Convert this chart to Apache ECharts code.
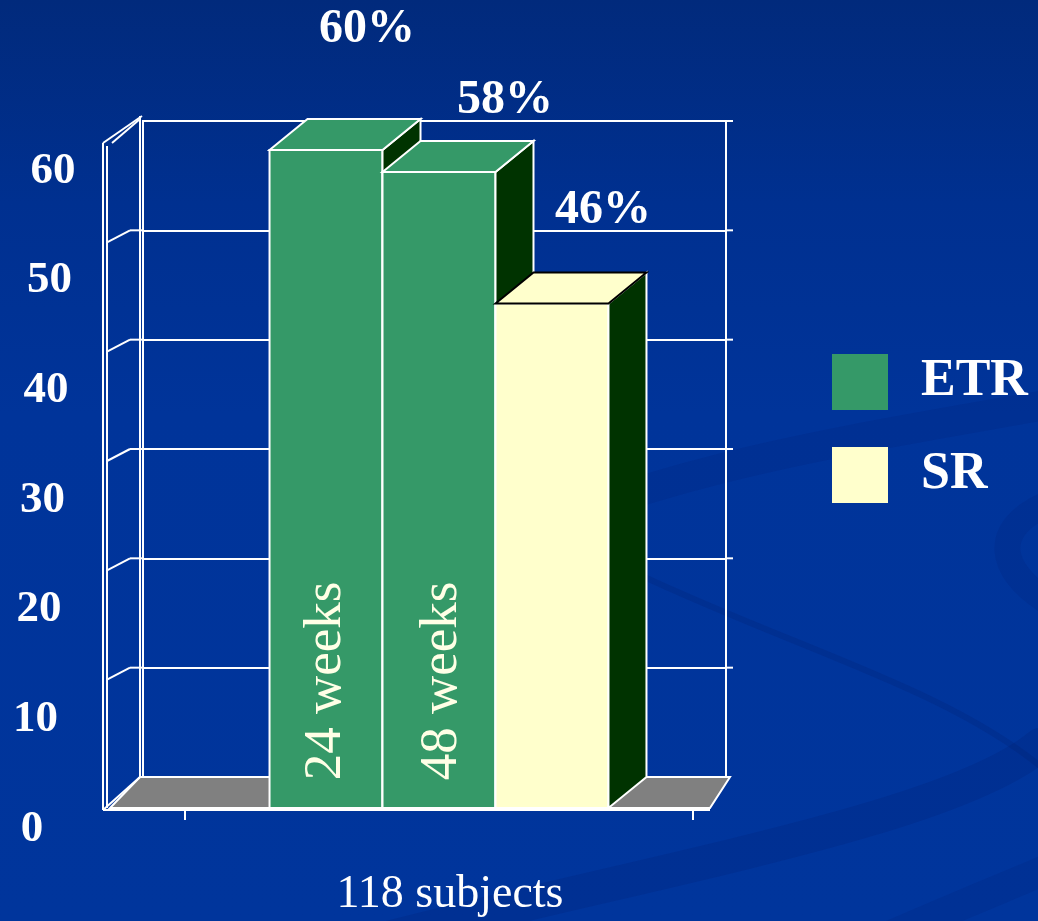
<!DOCTYPE html>
<html>
<head>
<meta charset="utf-8">
<script src="https://cdn.jsdelivr.net/npm/echarts@6/dist/echarts.min.js"></script>
<style>
  html, body { margin: 0; padding: 0; }
  #chart {
    width: 1038px; height: 921px;
    background: linear-gradient(180deg, #012a7c 0%, #003090 22%, #00349a 45%, #00359c 100%);
  }
</style>
</head>
<body>
<div id="chart"></div>
<script>
// ---- data ----
const categories = ['118 subjects'];
const seriesNames = ['ETR', 'SR'];
const etrValues = [60, 58];
const etrBarTexts = ['24 weeks', '48 weeks'];
const srValues = [46];
const yTicks = [0, 10, 20, 30, 40, 50, 60];

// ---- layout / style ----
const FONT = "'Liberation Serif', 'DejaVu Serif', serif";
const BACK = { left: 143, top: 121, width: 583, height: 656 };   // back wall plane
const FRONT = { left: 185, top: 150, width: 508, height: 658 };  // front plane of the boxes
const DX = 38, DY = -31;            // depth offset of the 3-D boxes
const BAR_FRAC = 0.2224;            // box width as share of the category band
const labelShift = [[41, -120], [66, -71], [51, -93]]; // value labels, per slot
const GREEN = '#359968', CREAM = '#ffffcc', SIDE = '#003300';

const chart = echarts.init(document.getElementById('chart'), null, { renderer: 'canvas' });

function renderBox(params, api) {
  const v = api.value(1);
  const slot = api.value(2);
  const top = api.coord([0, v]);
  const base = api.coord([0, 0]);
  const bw = api.size([1, 0])[0] * BAR_FRAC;
  const x0 = top[0] + (slot - 1.5) * bw, x1 = x0 + bw;
  const yT = top[1], yB = base[1];
  const cream = params.seriesName === 'SR';
  const fill = cream ? CREAM : GREEN;
  const edge = cream ? '#000000' : '#ffffff';
  const children = [
    { type: 'rect', shape: { x: x0, y: yT, width: bw, height: yB - yT },
      style: { fill: fill, stroke: '#ffffff', lineWidth: 2 } },
    { type: 'polygon', shape: { points: [[x1, yT], [x1 + DX, yT + DY], [x1 + DX, yB + DY], [x1, yB]] },
      style: { fill: SIDE, stroke: '#ffffff', lineWidth: 2 } },
    { type: 'polygon', shape: { points: [[x0, yT], [x0 + DX, yT + DY], [x1 + DX, yT + DY], [x1, yT]] },
      style: { fill: fill, stroke: edge, lineWidth: 2 } },
    { type: 'text', x: (x0 + x1) / 2 + labelShift[slot][0], y: yT + labelShift[slot][1],
      style: { text: v + '%', fill: '#ffffff', font: 'bold 48px ' + FONT, align: 'center', verticalAlign: 'middle' } }
  ];
  const inner = api.value(3);
  if (inner) {
    children.push({ type: 'text', x: (x0 + x1) / 2 + 3 * slot, y: yB - 127, rotation: Math.PI / 2,
      style: { text: inner, fill: '#ffffe6', font: '53px ' + FONT, align: 'center', verticalAlign: 'middle' } });
  }
  return { type: 'group', children: children };
}

// tick numbers sit slightly below and left of each gridline, following the slanted front edge
function renderTick(params, api) {
  const v = api.value(1);
  const p = api.coord([0, v]);
  return { type: 'text', x: 32 + 0.35 * v, y: p[1] + 21,
    style: { text: String(v), fill: '#ffffff', font: 'bold 45px ' + FONT, align: 'center', verticalAlign: 'middle' } };
}

const etrData = etrValues.map((v, i) => [0, v, i, etrBarTexts[i]]);
const srData = srValues.map((v, i) => [0, v, etrValues.length + i, '']);

chart.setOption({
  animation: false,
  backgroundColor: 'transparent',
  grid: [
    { left: BACK.left, top: BACK.top, width: BACK.width, height: BACK.height,
      show: true, borderColor: '#ffffff', borderWidth: 2, backgroundColor: 'transparent' },
    { left: FRONT.left, top: FRONT.top, width: FRONT.width, height: FRONT.height }
  ],
  xAxis: [
    { gridIndex: 0, type: 'category', data: categories, show: false },
    { gridIndex: 1, type: 'category', data: categories,
      axisLine: { show: false },
      axisTick: { show: true, length: 12, lineStyle: { color: '#ffffff', width: 2 } },
      axisLabel: { color: '#ffffff', fontSize: 46, fontFamily: FONT, margin: 64, padding: [0, 0, 0, 22] } }
  ],
  yAxis: [
    { gridIndex: 0, type: 'value', min: 0, max: 60, interval: 10,
      axisLine: { show: false }, axisTick: { show: false }, axisLabel: { show: false },
      splitLine: { show: true, lineStyle: { color: '#ffffff', width: 2 } } },
    { gridIndex: 1, type: 'value', min: 0, max: 60, interval: 10, show: false }
  ],
  legend: {
    data: seriesNames, orient: 'vertical', left: 827, top: 349,
    itemWidth: 56, itemHeight: 56, itemGap: 37, icon: 'rect', selectedMode: false,
    textStyle: { color: '#ffffff', fontSize: 52, fontWeight: 'bold', fontFamily: FONT, padding: [0, 0, 0, 28] }
  },
  series: [
    { name: 'ETR', type: 'custom', xAxisIndex: 1, yAxisIndex: 1, clip: false,
      itemStyle: { color: GREEN }, encode: { x: 0, y: 1 }, data: etrData, renderItem: renderBox, z: 3 },
    { name: 'SR', type: 'custom', xAxisIndex: 1, yAxisIndex: 1, clip: false,
      itemStyle: { color: CREAM }, encode: { x: 0, y: 1 }, data: srData, renderItem: renderBox, z: 3 },
    { name: 'ticks', type: 'custom', xAxisIndex: 1, yAxisIndex: 1, clip: false, silent: true,
      encode: { x: 0, y: 1 }, data: yTicks.map(v => [0, v]), renderItem: renderTick, z: 3 }
  ]
});

// ---- floor, side edges and background swooshes, placed from the axes ----
const yb = v => chart.convertToPixel({ gridIndex: 0 }, [0, v])[1];
const yf = v => chart.convertToPixel({ gridIndex: 1 }, [0, v])[1];
const BL = BACK.left, BR = BACK.left + BACK.width;
const W = { stroke: '#ffffff', lineWidth: 2, fill: null };
const line = (x1, y1, x2, y2) => ({ type: 'line', z: 1, silent: true, shape: { x1, y1, x2, y2 }, style: W });

const frame = [];
const swoosh = (x1, y1, cpx1, cpy1, cpx2, cpy2, x2, y2, w, a) => ({
  type: 'bezierCurve', z: -10, silent: true,
  shape: { x1, y1, cpx1, cpy1, cpx2, cpy2, x2, y2 },
  style: { stroke: 'rgba(0,22,95,' + a + ')', lineWidth: w, fill: null, lineCap: 'round' }
});
frame.push(swoosh(380, 940, 650, 870, 950, 820, 1040, 745, 34, 0.14));
frame.push(swoosh(880, 940, 960, 905, 1010, 885, 1045, 870, 30, 0.12));
frame.push(swoosh(470, 560, 640, 470, 850, 440, 1045, 405, 30, 0.11));
frame.push(swoosh(640, 575, 800, 650, 950, 690, 1045, 770, 6, 0.16));
frame.push(swoosh(1045, 505, 990, 530, 1000, 570, 1045, 600, 26, 0.12));

frame.push({ type: 'polygon', z: 1, silent: true,
  shape: { points: [[BL - 33, yf(0)], [BL - 3, yb(0)], [BR + 4, yb(0)], [BR - 16, yf(0)]] },
  style: { fill: '#808080', stroke: '#ffffff', lineWidth: 2 } });
frame.push(line(103, yf(0) + 2, BR - 16, yf(0) + 2));
frame.push(line(103, yb(60) + 22, 103, yf(0) + 2));
frame.push(line(107, yb(60) + 25, 107, yf(0)));
frame.push(line(140, yb(60) - 5, 140, yb(0)));
frame.push(line(103, yb(60) + 22, 142, yb(60) - 5));
frame.push(line(112, yb(60) + 22, 140, yb(60) - 2));
frame.push(line(103, yf(0) + 2, 140, yb(0)));
yTicks.forEach(v => {
  if (v > 0 && v < 60) {
    frame.push(line(107, yb(v) + 12, 130, yb(v)));
    frame.push(line(130, yb(v), BL, yb(v)));
  }
  if (v > 0) frame.push(line(BR, yb(v), BR + 7, yb(v)));
});
chart.setOption({ graphic: { elements: frame } });
</script>
</body>
</html>
